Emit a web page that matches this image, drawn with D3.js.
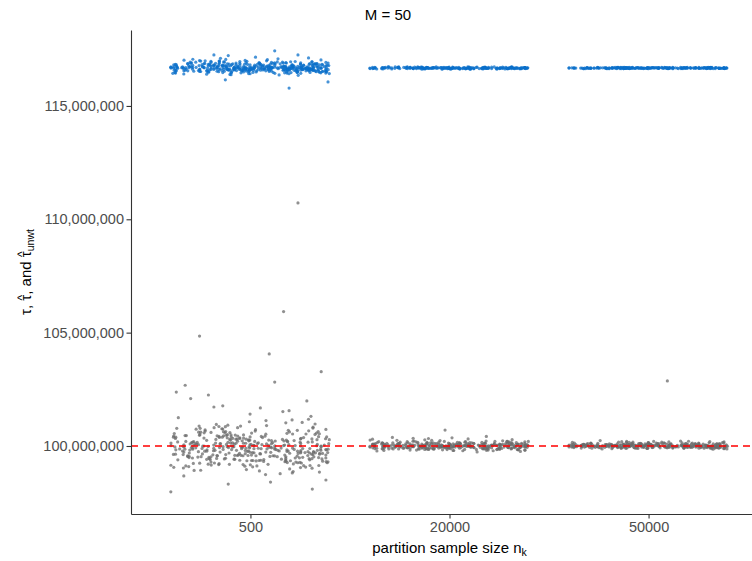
<!DOCTYPE html>
<html>
<head>
<meta charset="utf-8">
<script src="https://cdn.jsdelivr.net/npm/d3@7"></script>
<style>
  body { margin: 0; background: #fff; }
  text { font-family: "Liberation Sans", Arial, sans-serif; }
</style>
</head>
<body>
<div id="chart"></div>
<script>
// categories (partition sample size n_k)
var categories = ["500", "20000", "50000"];
var tauTrue = 100000000;
var yTicks = [100000000, 105000000, 110000000, 115000000];

// weighted estimate tau-hat, in millions (grey points)
var tauHat500 = [97.98,104.06,102.25,101.99,99.9,102.68,105.93,101.77,103.28,101.68,104.85,110.72,100.3,102.38,102.82,101.72,98.10,99.6,102.09,101.56,98.32,100.4,
  99.84,100.21,99.47,100.63,99.92,99.15,100.08,100.44,99.71,99.33,100.95,99.58,99.99,100.37,99.26,99.81,100.12,98.87,100.52,99.64,
  99.95,100.71,99.42,99.77,100.29,99.08,100.03,99.55,100.86,99.69,100.17,99.36,100.48,99.89,98.96,100.25,99.73,100.61,99.51,100.05,
  99.28,100.39,99.86,99.62,101.12,99.44,100.14,99.97,99.19,100.57,99.75,100.33,99.53,98.74,100.09,99.91,100.78,99.39,100.19,99.67,
  100.46,99.81,99.12,100.27,99.58,100.92,99.94,99.49,100.11,99.23,100.66,99.78,100.02,99.35,100.41,98.92,99.87,100.23,99.61,100.54,
  99.03,100.16,99.72,100.83,99.46,100.06,99.31,99.98,100.35,99.57,101.25,99.83,99.17,100.49,99.66,100.01,99.41,100.28,99.79,98.81,
  100.73,99.54,100.13,99.27,99.93,100.58,99.68,100.04,99.37,100.31,99.85,99.06,100.42,99.74,100.19,99.48,101.04,99.89,99.59,100.24,
  99.21,100.67,99.96,99.52,100.37,99.14,100.09,99.76,100.51,99.63,98.68,100.22,99.88,100.79,99.43,100.03,99.29,100.45,99.7,100.14,
  99.99,99.36,100.88,99.57,100.26,98.99,100.07,99.81,100.55,99.45,100.17,99.67,101.41,99.92,99.24,100.34,99.6,100.64,99.84,99.11,
  100.29,99.5,100.02,99.73,100.97,99.38,100.12,99.86,99.19,100.47,99.65,100.2,98.5,99.95,100.38,99.55,100.74,99.8,99.32,100.06,
  99.7,100.59,99.44,100.15,99.9,99.02,100.32,99.61,100.81,99.77,100.0,99.26,100.43,99.83,100.1,99.49,101.18,99.93,98.41,100.27,
  99.58,100.69,99.35,100.05,99.78,100.4,99.13,99.97,100.53,99.66,100.21,99.42,100.85,99.87,99.2,100.3,99.72,100.08,99.53,101.52,
  99.96,99.09,100.36,99.62,100.62,99.81,100.11,99.4,99.91,100.76,99.56,100.18,99.3,100.04,99.75,100.5,98.93,99.85,100.26,99.64,
  100.9,99.47,100.07,99.79,100.44,99.16,99.94,100.24,99.59,100.6,99.34,100.13,99.71,101.07,99.88,99.05,100.33,99.52,100.01,99.82,
  100.47,99.25,100.16,99.69,100.72,99.43,99.98,100.29,98.78,100.03,99.74,100.56,99.37,100.09,99.86,100.39,99.57,101.31,99.92,99.18,
  99.62,100.35,99.88,100.02,99.41,100.58,99.76,99.99,100.23,99.54,100.81,99.69,100.1,99.33,100.46,99.91,99.14,100.28,99.8,100.64,
  99.47,100.07,99.73,100.39,99.6,101.02,99.86,99.25,100.18,99.95,100.53,99.39,100.11,99.67,100.75,99.83,98.9,100.31,99.58,100.04,
  100.42,99.71,99.18,100.2,99.9,100.61,99.5,100.01,99.78,100.36,99.29,100.14,99.97,100.88,99.44,100.06,99.65,100.49,99.84,99.07,
  100.26,99.56,100.69,99.93,99.36,100.17,99.74,101.15,99.87,100.4,99.52,100.03,99.22,100.57,99.81,100.12,99.64,100.3,98.85,99.96,
  100.78,99.45,100.09,99.7,100.45,99.31,100.22,99.89,99.57,100.66,99.77,100.0,99.4,100.51,99.92,99.12,100.34,99.68,100.15,99.83];

var tauHat20000 = [99.98,100.05,99.93,100.12,100.7,
  100.02,99.91,100.08,99.96,100.15,99.87,100.04,99.99,100.11,99.94,100.21,99.89,100.06,100.0,99.82,100.13,99.97,100.03,99.92,100.18,
  99.95,100.09,99.86,100.01,100.25,99.98,99.9,100.07,99.8,100.14,100.02,99.93,100.1,99.96,100.33,99.88,100.05,99.99,100.17,99.85,
  100.04,99.94,100.12,99.78,100.0,100.08,99.91,100.22,99.97,100.03,99.84,100.16,99.95,100.06,99.89,100.38,100.01,99.92,100.1,99.98,
  100.07,99.87,100.19,99.96,100.02,99.83,100.13,99.99,99.9,100.28,100.05,99.94,100.09,99.76,100.03,99.97,100.15,99.88,100.11,100.0,
  99.93,100.06,99.86,100.2,99.98,100.04,99.81,100.12,99.95,100.42,100.01,99.9,100.08,99.97,100.17,99.85,100.03,99.92,100.1,99.99,
  100.14,99.89,100.05,99.96,100.24,99.79,100.02,99.94,100.11,99.98,100.07,99.84,100.19,99.91,100.0,100.3,99.87,100.06,99.95,100.13,
  99.97,100.09,99.82,100.03,99.93,100.16,99.88,100.36,100.01,99.96,100.12,99.9,100.04,99.74,100.08,99.99,100.21,99.86,100.05,99.94,
  100.1,99.92,100.02,99.85,100.18,99.97,100.06,99.89,100.26,100.0,99.95,100.13,99.83,100.04,99.98,100.11,99.9,100.07,99.96,100.15,
  99.88,100.03,99.94,100.2,99.99,100.09,99.8,100.01,99.93,100.14,100.05,99.87,100.1,99.97,100.34,99.91,100.06,99.84,100.02,99.95,
  100.03,99.95,100.12,99.9,100.06,99.99,100.18,99.86,100.01,99.94,100.09,99.97,100.23,99.88,100.04,100.0,99.81,100.14,99.96,100.07,
  99.92,100.1,99.98,100.02,99.85,100.16,99.95,100.05,99.89,100.27,100.01,99.93,100.08,99.79,100.03,99.97,100.12,99.9,100.06,99.99,
  100.2,99.87,100.04,99.94,100.11,99.98,100.0,99.83,100.15,99.96,100.07,99.91,100.31,100.02,99.88,100.09,99.95,100.03,99.99,100.13,
  99.96,100.08,99.91,100.03,100.14,99.87,100.01,99.97,100.1,99.93,100.05,99.99,100.19,99.85,100.02,99.95,100.07,99.9,100.12,100.0,
  99.94,100.06,99.82,100.04,99.98,100.16,99.92,100.01,100.09,99.88,100.03,99.96,100.22,99.93,100.05,99.99,100.11,99.86,100.0,100.07,
  100.02,99.91,100.13,99.97,100.04,99.84,100.08,99.95,100.17,99.99,100.01,99.89,100.1,99.94,100.06,100.25,99.92,100.03,99.98,100.12,
  99.9,100.05,99.96,100.15,100.0,99.87,100.09,99.95,100.02,99.8,100.06,99.97,100.14,99.93,100.04,99.99,100.2,99.91,100.08,100.01];

var tauHat50000 = [100.01,102.87,
  99.98,100.04,99.95,100.07,100.0,99.93,100.1,100.02,99.97,100.05,99.91,100.13,99.99,100.03,99.94,100.08,100.01,99.96,100.16,99.92,
  100.06,99.99,100.02,99.89,100.09,99.97,100.04,100.0,99.95,100.11,99.98,100.21,99.93,100.05,100.01,99.9,100.07,99.96,100.03,99.94,
  100.12,99.98,100.06,99.92,100.0,100.04,99.87,100.09,99.97,100.02,100.15,99.95,100.01,99.91,100.08,99.99,100.05,99.94,100.18,100.03,
  99.96,100.1,99.93,100.01,100.06,99.88,100.03,99.98,100.13,99.95,100.0,100.07,99.9,100.04,99.97,100.24,100.02,99.94,100.09,99.99,
  100.05,99.92,100.01,100.11,99.97,100.03,99.86,100.06,99.99,100.14,100.02,99.95,100.08,99.93,100.0,100.19,99.96,100.04,99.91,100.07,
  99.98,100.1,100.01,99.94,100.05,99.97,100.16,99.9,100.03,99.99,100.08,99.95,100.12,100.02,99.89,100.06,99.96,100.0,100.22,99.93,
  100.04,99.98,100.09,99.92,100.01,100.13,99.95,100.05,99.99,100.07,99.88,100.03,99.97,100.1,100.0,99.94,100.17,100.02,99.96,100.06,
  99.93,100.08,100.0,99.97,100.14,99.91,100.04,99.99,100.11,99.95,100.02,100.06,99.87,100.01,99.98,100.2,99.94,100.05,100.03,99.96,
  100.09,99.92,100.02,100.15,99.97,100.04,99.9,100.07,99.99,100.12,100.01,99.95,100.06,99.93,100.18,100.0,99.96,100.03,99.89,100.08,
  100.02,99.96,100.07,99.93,100.01,100.11,99.98,100.04,99.91,100.06,99.99,100.15,99.95,100.03,100.0,99.89,100.08,99.97,100.12,100.01,
  99.94,100.05,99.99,100.09,99.92,100.02,100.17,99.96,100.04,99.98,100.07,99.9,100.01,100.13,99.95,100.03,99.97,100.1,100.0,99.93,
  100.06,99.99,100.2,99.94,100.02,100.08,99.96,100.04,99.88,100.01,100.11,99.97,100.05,99.93,100.0,100.14,99.98,100.03,99.95,100.07,
  99.99,100.05,99.94,100.08,100.01,99.96,100.12,99.97,100.03,99.92,100.06,100.0,99.95,100.1,99.98,100.04,99.9,100.07,100.02,99.97,
  100.14,99.95,100.01,100.06,99.93,100.03,99.99,100.09,99.96,100.02,100.17,99.94,100.05,99.98,100.11,99.91,100.04,100.0,99.97,100.08,
  100.02,99.96,100.13,99.93,100.06,99.99,100.03,99.89,100.07,100.01,99.95,100.1,99.97,100.04,99.92,100.16,100.0,99.96,100.05,99.98,
  100.08,99.94,100.02,100.12,99.97,100.03,99.9,100.06,100.01,99.95,100.09,99.98,100.04,99.93,100.19,100.0,99.96,100.07,99.99,100.03];

// unweighted estimate tau-hat_unwt, in millions (blue points)
var tauUnwt500 = [116.71,116.52,116.84,116.63,116.9,116.58,116.75,116.47,116.66,116.81,116.6,117.25,116.69,116.55,117.43,117.25,116.78,116.62,116.88,115.79,117.22,116.5,
  116.74,116.59,116.86,116.67,116.43,116.8,116.64,116.92,116.55,116.71,116.61,116.98,116.69,116.49,116.77,116.63,116.85,116.57,116.72,116.66,
  116.9,116.53,116.7,116.62,116.82,116.46,116.75,116.68,116.58,117.02,116.65,116.79,116.51,116.73,116.6,116.87,116.67,116.41,116.76,116.64,
  116.56,116.83,116.69,116.61,116.94,116.54,116.72,116.66,116.48,116.78,116.63,116.89,116.59,116.7,117.08,116.57,116.74,116.65,116.35,116.81,
  116.68,116.52,116.86,116.62,116.76,116.45,116.71,116.93,116.6,116.67,116.55,116.84,116.73,116.5,116.79,116.64,117.0,116.58,116.69,116.77,
  116.62,116.91,116.47,116.7,116.65,116.8,116.56,116.74,116.39,116.83,116.68,116.61,116.95,116.53,116.72,116.66,116.88,116.44,116.75,116.63,
  116.57,116.78,116.69,117.12,116.6,116.85,116.51,116.71,116.64,116.97,116.58,116.73,116.42,116.8,116.67,116.55,116.87,116.62,116.7,116.15,
  116.76,116.49,116.82,116.65,116.59,116.94,116.68,116.54,116.77,116.61,117.05,116.72,116.46,116.84,116.63,116.7,116.57,116.9,116.66,116.06,
  116.73,116.6,116.86,116.52,116.69,116.79,116.64,116.99,116.56,116.71,116.43,116.81,116.67,116.58,116.92,116.62,116.75,116.5,116.88,116.65,
  116.7,116.55,116.83,116.61,116.97,116.47,116.74,116.66,116.8,116.59,116.68,117.15,116.53,116.77,116.63,116.86,116.58,116.72,116.45,116.69,
  116.64,116.89,116.56,116.75,116.62,116.93,116.51,116.71,116.67,116.82,116.6,116.4,116.78,116.65,117.03,116.57,116.73,116.68,116.85,116.54,
  116.81,116.63,116.7,116.48,116.87,116.66,116.59,116.96,116.72,116.55,116.76,116.61,116.91,116.44,116.69,116.84,116.58,116.74,116.64,117.1,
  116.52,116.79,116.67,116.9,116.6,116.73,116.46,116.85,116.65,116.57,116.8,116.62,116.98,116.5,116.71,116.68,116.88,116.55,116.77,116.63,
  116.69,116.95,116.58,116.74,116.38,116.82,116.66,116.6,116.87,116.53,116.72,116.64,117.06,116.59,116.78,116.67,116.49,116.84,116.7,116.61,
  116.76,116.56,116.89,116.63,116.68,116.81,116.47,116.73,116.65,116.93,116.58,116.7,116.52,116.86,116.62,116.75,116.99,116.54,116.69,116.8,
  116.63,116.8,116.55,116.72,116.67,116.9,116.5,116.76,116.61,116.84,116.69,116.45,116.78,116.64,116.96,116.58,116.73,116.66,116.87,116.53,
  116.71,116.6,116.82,116.68,116.48,116.75,116.65,116.93,116.57,116.7,116.62,117.04,116.66,116.79,116.54,116.74,116.69,116.86,116.59,116.42,
  116.77,116.64,116.88,116.56,116.72,116.67,116.51,116.83,116.63,116.95,116.6,116.7,116.47,116.81,116.68,116.57,116.9,116.65,116.74,116.37,
  116.66,116.85,116.59,116.73,116.62,116.78,116.53,117.01,116.69,116.6,116.8,116.67,116.44,116.76,116.64,116.89,116.58,116.71,116.66,116.83,
  116.55,116.75,116.68,116.92,116.61,116.7,116.49,116.82,116.65,116.58,116.77,116.63,116.98,116.54,116.72,116.67,116.86,116.6,116.74,116.69];

var tauUnwt20000 = [116.67,116.69,116.65,116.7,116.66,116.68,116.63,116.71,116.67,116.64,116.69,116.66,116.72,116.68,116.65,116.67,116.7,116.62,116.68,116.66,
  116.69,116.65,116.71,116.67,116.64,116.68,116.66,116.7,116.63,116.69,116.67,116.73,116.65,116.68,116.66,116.7,116.64,116.67,116.69,116.66,
  116.68,116.62,116.7,116.67,116.65,116.71,116.66,116.69,116.64,116.68,116.67,116.65,116.72,116.66,116.69,116.63,116.68,116.7,116.66,116.67,
  116.65,116.69,116.67,116.71,116.64,116.68,116.66,116.7,116.65,116.67,116.69,116.63,116.68,116.66,116.72,116.67,116.65,116.7,116.68,116.66,
  116.64,116.69,116.67,116.71,116.66,116.68,116.65,116.7,116.67,116.62,116.69,116.66,116.68,116.73,116.65,116.67,116.7,116.64,116.68,116.66,
  116.69,116.67,116.65,116.71,116.66,116.68,116.63,116.7,116.67,116.69,116.66,116.65,116.72,116.68,116.64,116.67,116.7,116.66,116.69,116.67,
  116.68,116.66,116.7,116.64,116.69,116.67,116.65,116.71,116.68,116.63,116.67,116.69,116.66,116.7,116.65,116.68,116.72,116.67,116.64,116.69,
  116.66,116.68,116.65,116.7,116.67,116.62,116.69,116.68,116.66,116.71,116.64,116.67,116.69,116.65,116.68,116.7,116.66,116.73,116.67,116.65,
  116.69,116.66,116.68,116.64,116.7,116.67,116.65,116.71,116.68,116.66,116.63,116.69,116.67,116.7,116.65,116.68,116.66,116.72,116.67,116.69,
  116.65,116.68,116.7,116.66,116.67,116.64,116.69,116.71,116.66,116.68,116.67,116.65,116.7,116.63,116.68,116.69,116.66,116.67,116.72,116.65,
  116.68,116.66,116.7,116.67,116.64,116.69,116.65,116.68,116.71,116.66,116.67,116.69,116.62,116.68,116.66,116.7,116.67,116.65,116.69,116.68];

var tauUnwt50000 = [116.67,116.68,116.66,116.69,116.67,116.65,116.68,116.7,116.66,116.67,116.69,116.68,116.66,116.67,116.64,116.68,116.69,116.67,116.66,116.7,
  116.68,116.66,116.67,116.69,116.65,116.68,116.67,116.7,116.66,116.68,116.67,116.65,116.69,116.68,116.66,116.67,116.7,116.68,116.64,116.67,
  116.66,116.69,116.68,116.67,116.65,116.7,116.67,116.68,116.66,116.69,116.67,116.68,116.65,116.67,116.69,116.66,116.68,116.7,116.67,116.66,
  116.68,116.67,116.69,116.65,116.68,116.66,116.67,116.7,116.68,116.66,116.69,116.67,116.64,116.68,116.67,116.69,116.66,116.68,116.67,116.65,
  116.69,116.68,116.66,116.67,116.7,116.68,116.65,116.67,116.69,116.66,116.68,116.67,116.66,116.69,116.68,116.67,116.65,116.7,116.67,116.68,
  116.66,116.68,116.69,116.67,116.65,116.68,116.67,116.7,116.66,116.69,116.67,116.68,116.66,116.67,116.69,116.68,116.64,116.67,116.68,116.66,
  116.68,116.67,116.66,116.69,116.68,116.65,116.67,116.7,116.68,116.66,116.67,116.69,116.68,116.66,116.67,116.65,116.69,116.68,116.67,116.66,
  116.7,116.67,116.68,116.66,116.69,116.67,116.65,116.68,116.67,116.69,116.66,116.68,116.7,116.67,116.66,116.68,116.64,116.67,116.69,116.68,
  116.66,116.67,116.68,116.7,116.65,116.67,116.69,116.68,116.66,116.67,116.68,116.65,116.69,116.67,116.66,116.7,116.68,116.67,116.66,116.69,
  116.67,116.68,116.65,116.69,116.67,116.66,116.68,116.7,116.67,116.66,116.69,116.68,116.67,116.64,116.68,116.67,116.69,116.66,116.68,116.67,
  116.66,116.69,116.67,116.68,116.7,116.66,116.67,116.68,116.65,116.69,116.67,116.68,116.66,116.67,116.69,116.68,116.66,116.7,116.67,116.68];

var greySeries = [tauHat500, tauHat20000, tauHat50000];
var blueSeries = [tauUnwt500, tauUnwt20000, tauUnwt50000];

var W = 752, H = 561;
var margin = {top: 30, right: -16, bottom: 47, left: 131},
  width = W - margin.left - margin.right,
  height = H - margin.top - margin.bottom;

var svg = d3.select("#chart")
  .append("svg")
  .attr("width", W)
  .attr("height", H)
  .append("g")
  .attr("transform", "translate(" + margin.left + "," + margin.top + ")");

// X: discrete, ggplot style expansion of 0.6
var x = d3.scalePoint()
  .domain(categories)
  .range([0, width])
  .padding(0.6);

var y = d3.scaleLinear()
  .domain([97000000, 118350000])
  .range([height, 0]);

// deterministic jitter, +-0.4 of the category spacing
function jitter(i, k) {
  var f;
  if (i < 22) f = (i * 0.6180339887) % 1;
  else {
    var s = Math.sin((i + 31 * k) * 12.9898) * 43758.5453;
    f = s - Math.floor(s);
  }
  return (f * 2 - 1) * 0.4 * x.step();
}

function toPoints(series, k0) {
  var pts = [];
  series.forEach(function(vals, k) {
    vals.forEach(function(v, i) {
      pts.push({cat: categories[k], v: v * 1000000, i: i, k: k + k0});
    });
  });
  return pts;
}

// grey points
svg.selectAll("circle.grey")
  .data(toPoints(greySeries, 0))
  .enter()
  .append("circle")
  .attr("class", "grey")
  .attr("cx", function(d) { return x(d.cat) + jitter(d.i, d.k); })
  .attr("cy", function(d) { return y(d.v); })
  .attr("r", 1.6)
  .style("fill", "#6b6b6b")
  .style("fill-opacity", 0.75);

// blue points
svg.selectAll("circle.blue")
  .data(toPoints(blueSeries, 3))
  .enter()
  .append("circle")
  .attr("class", "blue")
  .attr("cx", function(d) { return x(d.cat) + jitter(d.i, d.k); })
  .attr("cy", function(d) { return y(d.v); })
  .attr("r", 1.6)
  .style("fill", "#0a6fca")
  .style("fill-opacity", 0.75);

// true tau
svg.append("line")
  .attr("x1", 0)
  .attr("x2", width)
  .attr("y1", y(tauTrue))
  .attr("y2", y(tauTrue))
  .attr("stroke", "#ff0000")
  .attr("stroke-width", 1.4)
  .attr("stroke-dasharray", "7,5");

// axes
var yAxis = svg.append("g")
  .call(d3.axisLeft(y).tickValues(yTicks).tickFormat(d3.format(",")).tickSize(4.5).tickSizeOuter(0));

var xAxis = svg.append("g")
  .attr("transform", "translate(0," + height + ")")
  .call(d3.axisBottom(x).tickSize(4.5).tickSizeOuter(0));

[yAxis, xAxis].forEach(function(a) {
  a.select(".domain").attr("stroke", "#333").attr("stroke-width", 1.1);
  a.selectAll(".tick line").attr("stroke", "#333").attr("stroke-width", 1.1);
  a.selectAll(".tick text")
    .style("font-family", "'Liberation Sans', Arial, sans-serif")
    .style("font-size", "14.5px")
    .attr("fill", "#4d4d4d");
});
yAxis.selectAll(".tick text").attr("x", -7);
xAxis.selectAll(".tick text").attr("y", 8);

// x title
var xt = svg.append("text")
  .attr("x", width / 2)
  .attr("y", height + 39)
  .attr("text-anchor", "middle")
  .style("font-size", "15px")
  .attr("fill", "#000");
xt.append("tspan").text("partition sample size n");
xt.append("tspan").attr("dy", 3).style("font-size", "10.5px").text("k");

// y title, hats drawn over the 2nd and 3rd tau
var yg = svg.append("g")
  .attr("transform", "translate(" + (-100) + "," + (height / 2) + ")rotate(-90)");
var yt = yg.append("text")
  .attr("text-anchor", "middle")
  .style("font-size", "15px")
  .attr("fill", "#000");
yt.append("tspan").text("\u03c4, \u03c4, and \u03c4");
yt.append("tspan").attr("dy", 3).style("font-size", "10.5px").text("unwt");
[3, 10].forEach(function(ci) {
  var ext = yt.node().getExtentOfChar(ci);
  yg.append("text")
    .attr("x", ext.x + ext.width / 2)
    .attr("y", -5.5)
    .attr("text-anchor", "middle")
    .style("font-size", "12px")
    .attr("fill", "#000")
    .text("^");
});

// title
d3.select("svg").append("text")
  .attr("x", 388)
  .attr("y", 20)
  .attr("text-anchor", "middle")
  .style("font-size", "15px")
  .attr("fill", "#000")
  .text("M = 50");
</script>
</body>
</html>
